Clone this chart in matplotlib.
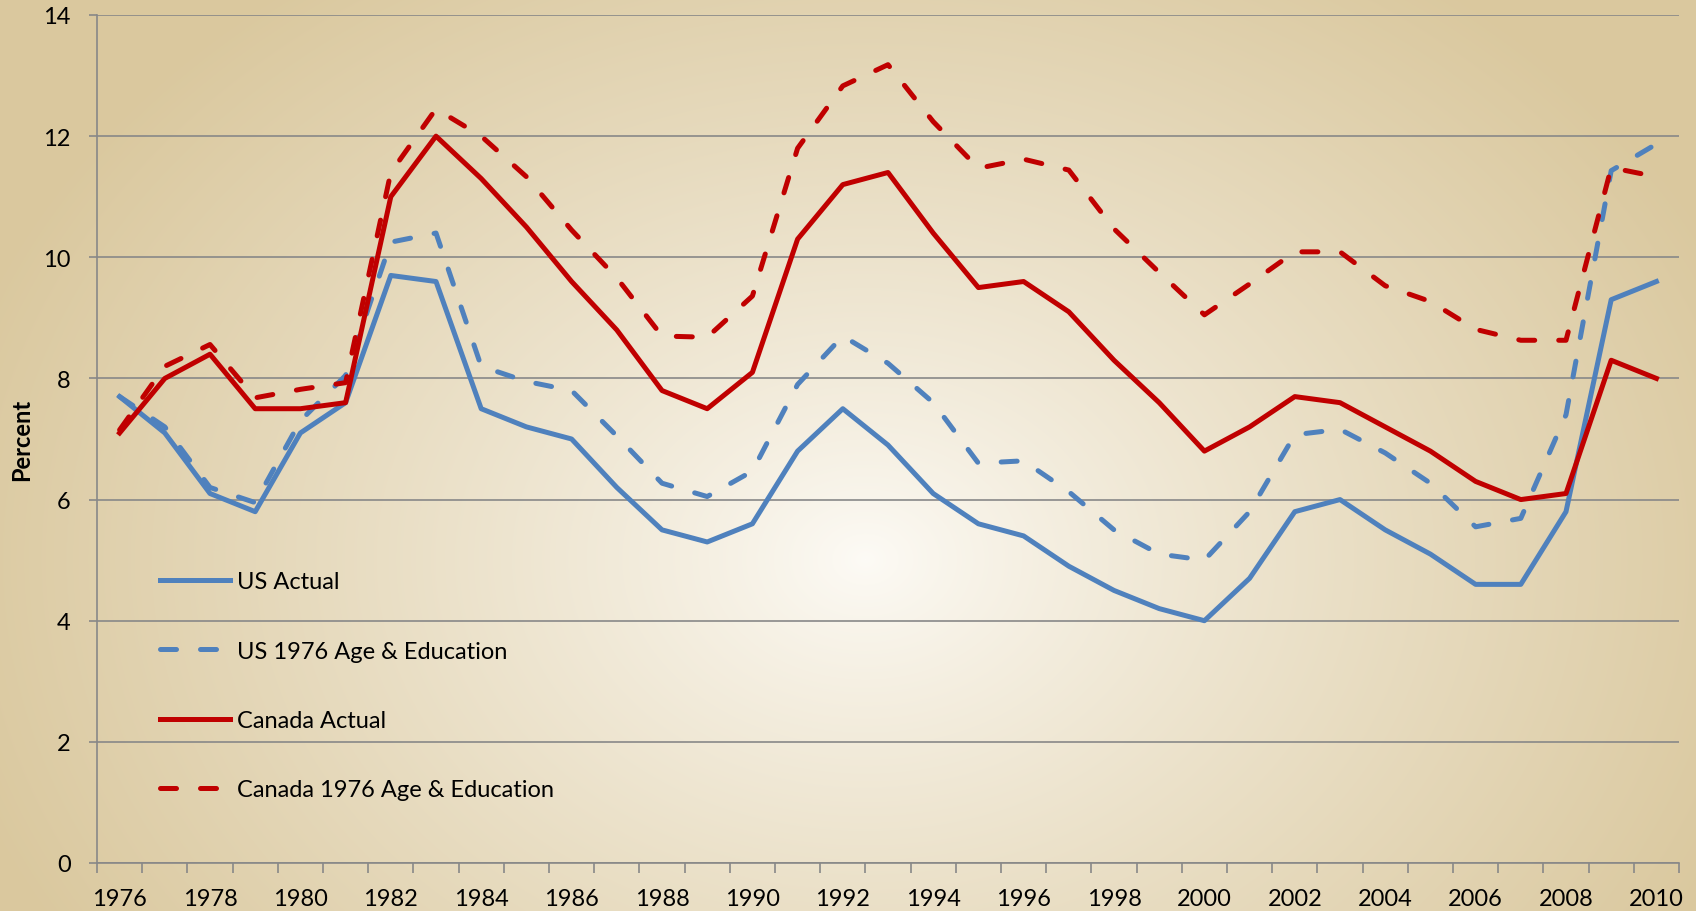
import numpy as np
import matplotlib.pyplot as plt

plt.rcParams['font.family'] = ['Lato', 'DejaVu Sans']

years = list(range(1976, 2011))

us_actual = [7.7, 7.1, 6.1, 5.8, 7.1, 7.6, 9.7, 9.6, 7.5, 7.2,
             7.0, 6.2, 5.5, 5.3, 5.6, 6.8, 7.5, 6.9, 6.1, 5.6,
             5.4, 4.9, 4.5, 4.2, 4.0, 4.7, 5.8, 6.0, 5.5, 5.1,
             4.6, 4.6, 5.8, 9.3, 9.6]
us_1976 = [7.7, 7.2, 6.2, 5.95, 7.3, 8.05, 10.25, 10.4, 8.2, 7.95,
           7.8, 7.05, 6.27, 6.05, 6.47, 7.9, 8.7, 8.25, 7.6, 6.6,
           6.64, 6.13, 5.5, 5.1, 5.0, 5.8, 7.07, 7.16, 6.77, 6.27,
           5.55, 5.69, 7.4, 11.43, 11.87]
ca_actual = [7.1, 8.0, 8.4, 7.5, 7.5, 7.6, 11.0, 12.0, 11.3, 10.5,
             9.6, 8.8, 7.8, 7.5, 8.1, 10.3, 11.2, 11.4, 10.4, 9.5,
             9.6, 9.1, 8.3, 7.6, 6.8, 7.2, 7.7, 7.6, 7.2, 6.8,
             6.3, 6.0, 6.1, 8.3, 8.0]
ca_1976 = [7.15, 8.2, 8.56, 7.68, 7.82, 7.93, 11.4, 12.45, 12.0, 11.33,
           10.45, 9.66, 8.7, 8.68, 9.36, 11.8, 12.83, 13.18, 12.24, 11.47,
           11.62, 11.44, 10.47, 9.75, 9.05, 9.56, 10.09, 10.09, 9.53, 9.27,
           8.81, 8.63, 8.63, 11.48, 11.33]

labels = ['US Actual', 'US 1976 Age & Education',
          'Canada Actual', 'Canada 1976 Age & Education']

BLUE = '#4f81bd'
RED = '#c00000'
GRID = '#888888'

W, H, DPI = 1696, 912, 100
fig = plt.figure(figsize=(W / DPI, H / DPI), dpi=DPI)

# radial beige background, bright spot slightly below centre
yy, xx = np.mgrid[0:H, 0:W]
t = np.sqrt(((xx - 865) / (0.56 * W)) ** 2 + ((yy - 560) / (0.80 * H)) ** 2)
t = np.clip(t, 0, 1) ** 0.85
c_in = np.array([253, 251, 246]) / 255
c_out = np.array([218, 200, 158]) / 255
img = c_in[None, None, :] * (1 - t[..., None]) + c_out[None, None, :] * t[..., None]
bg = fig.add_axes([0, 0, 1, 1], zorder=-10)
bg.imshow(img, aspect='auto', interpolation='bilinear')
bg.axis('off')

ax = fig.add_axes([97 / W, 1 - 864 / H, (1679 - 97) / W, (864 - 16) / H])
ax.patch.set_alpha(0)

x = np.arange(len(years))
lw = 3.6
dash = (0, (3.2, 4.8))
ax.plot(x, us_actual, color=BLUE, lw=lw, label=labels[0], solid_joinstyle='round')
ax.plot(x, us_1976, color=BLUE, lw=lw, ls=dash, dash_capstyle='round', label=labels[1])
ax.plot(x, ca_actual, color=RED, lw=lw, label=labels[2], solid_joinstyle='round')
ax.plot(x, ca_1976, color=RED, lw=lw, ls=dash, dash_capstyle='round', label=labels[3])

ax.set_xlim(-0.5, len(years) - 0.5)
ax.set_ylim(0, 14)
ax.set_yticks(range(0, 15, 2))
ax.yaxis.grid(True, color=GRID, lw=1.2)
ax.set_axisbelow(True)

for s in ['top', 'right']:
    ax.spines[s].set_visible(False)
for s in ['left', 'bottom']:
    ax.spines[s].set_color(GRID)
    ax.spines[s].set_linewidth(1.2)

# tick marks between categories, year labels under every other category
ax.set_xticks(np.arange(-0.5, len(years), 1))
ax.set_xticklabels([])
ax.set_xticks(x[::2], minor=True)
ax.set_xticklabels([str(y) for y in years[::2]], minor=True)
ax.tick_params(axis='x', which='major', direction='out', length=7, width=1.2, color=GRID)
ax.tick_params(axis='x', which='minor', length=0, pad=18, labelsize=17)
ax.tick_params(axis='y', direction='out', length=6, width=1.2, color=GRID, pad=13, labelsize=17)

fig.text(22 / W, 1 - 440 / H, 'Percent', rotation=90, ha='center', va='center',
         fontsize=17, fontweight='bold')

ax.legend(loc='upper left', bbox_to_anchor=(0.0398, 0.344), frameon=False,
          fontsize=17, handlelength=2.97, handletextpad=0.3, labelspacing=2.05,
          borderpad=0, borderaxespad=0)

fig.savefig('out.png', dpi=DPI)
